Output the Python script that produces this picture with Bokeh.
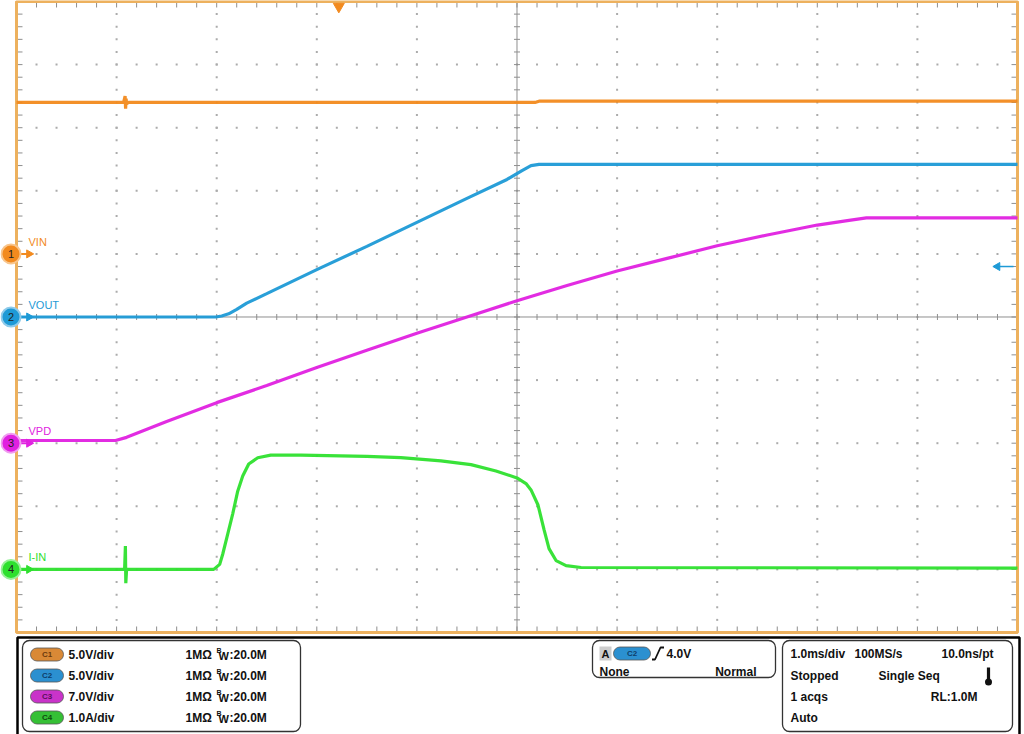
import numpy as np
from bokeh.plotting import figure
from bokeh.models import Range1d
from bokeh.layouts import column
from bokeh.embed import file_html
from bokeh.resources import INLINE
from bokeh.core.properties import value

# ---------------- data ----------------
channel_names = ["VIN", "VOUT", "VPD", "I-IN"]
channel_ids = ["C1", "C2", "C3", "C4"]
channel_scale = [5.0, 5.0, 7.0, 1.0]        # units per division
channel_unit = ["V", "V", "V", "A"]
channel_offset = [1.0, 0.0, -2.0, -4.0]     # ground marker position (div)
channel_colors = ["#F28A1E", "#1E9AD6", "#E021E0", "#2EE02E"]
channel_halo = ["#F8C58C", "#8FCBEA", "#F09CF0", "#98F098"]
pill_colors = ["#D98936", "#2B90D0", "#C933C9", "#35C035"]
pill_text = ["#6A3A0E", "#0E3E6A", "#5A0F5A", "#0F4D0F"]

time_per_div_ms = 1.0
trigger_time_ms = 3.22      # trigger position from left edge of screen
trigger_level_v = 4.0       # on C2

# C1: VIN (V)
vin_t = [0.00, 1.00, 1.07, 1.085, 1.09, 1.095, 1.10, 1.12, 5.18, 5.22, 10.00]
vin_v = [12.0, 12.0, 12.0, 12.5, 11.5, 12.3, 11.9, 12.0, 12.0, 12.1, 12.1]
# C2: VOUT (V)
vout_t = [0.00, 1.99, 2.05, 2.12, 2.20, 2.30, 2.50, 3.00, 3.50, 4.00, 4.50, 4.90, 5.05, 5.14, 5.22, 10.00]
vout_v = [0.0, 0.0, 0.08, 0.25, 0.6, 1.1, 1.85, 3.75, 5.6, 7.5, 9.4, 10.9, 11.6, 12.0, 12.1, 12.1]
# C3: VPD (V)
vpd_t = [0.00, 0.99, 1.10, 1.50, 2.00, 2.50, 3.00, 3.50, 4.00, 4.50, 5.00, 5.50, 6.00, 6.50, 7.00, 7.50, 8.00, 8.30, 8.49, 10.00]
vpd_v = [0.3, 0.3, 0.65, 2.4, 4.5, 6.4, 8.4, 10.3, 12.2, 14.0, 15.8, 17.5, 19.1, 20.5, 21.9, 23.1, 24.2, 24.7, 25.0, 25.0]
# C4: I-IN (A)
iin_t = [0.00, 1.08, 1.088, 1.092, 1.10, 1.97, 2.03, 2.06, 2.11, 2.16, 2.21, 2.26, 2.32, 2.41, 2.54, 2.84,
         3.50, 3.84, 4.24, 4.54, 4.79, 5.00, 5.09, 5.14, 5.21, 5.27, 5.32, 5.39, 5.49, 5.64, 10.00]
iin_a = [0.00, 0.00, 0.37, -0.22, 0.00, 0.00, 0.08, 0.24, 0.56, 0.88, 1.24, 1.48, 1.67, 1.77, 1.81, 1.81,
         1.79, 1.77, 1.72, 1.66, 1.56, 1.45, 1.36, 1.26, 1.02, 0.63, 0.33, 0.14, 0.06, 0.03, 0.02]

traces = [(vin_t, vin_v), (vout_t, vout_v), (vpd_t, vpd_v), (iin_t, iin_a)]

# status panel texts
coupling = ["1M\u03a9"] * 4
bandwidth = [":20.0M"] * 4
trigger_info = ["A", "C2", "4.0V", "None", "Normal"]
timebase_info = ["1.0ms/div", "100MS/s", "10.0ns/pt"]
acq_info = ["Stopped", "Single Seq", "1 acqs", "RL:1.0M", "Auto"]

# ---------------- scope screen ----------------
W = 1024
H1 = 634
H2 = 100
XMIN, XMAX = -0.1598, 10.0699
YMIN, YMAX = -5.0317, 5.0158

p = figure(width=W, height=H1, x_range=Range1d(XMIN, XMAX), y_range=Range1d(YMIN, YMAX),
           output_backend="svg", toolbar_location=None, min_border=0,
           x_axis_location=None, y_axis_location=None, outline_line_color=None,
           background_fill_color="white", border_fill_color="white")
p.grid.visible = False

p.extra_y_ranges = {
    cid: Range1d((YMIN - off) * sc, (YMAX - off) * sc)
    for cid, off, sc in zip(channel_ids, channel_offset, channel_scale)
}

grid_col = "#ABABAB"
tick_col = "#8E8E8E"
px_x = W / (XMAX - XMIN)
px_y = H1 / (YMAX - YMIN)

# dotted graticule
minor_x = np.round(np.arange(0, 10.0001, 0.2), 6)
minor_y = np.round(np.arange(-5, 5.0001, 0.2), 6)
dx, dy = [], []
for gx in [1, 2, 3, 4, 6, 7, 8, 9]:
    for yy in minor_y[1:-1]:
        dx.append(gx); dy.append(yy)
for gy in [-4, -3, -2, -1, 1, 2, 3, 4]:
    for xx in minor_x[1:-1]:
        dx.append(xx); dy.append(gy)
p.scatter(dx, dy, marker="square", size=2, fill_color=grid_col, line_color=None)

# centre cross-hair
p.segment(x0=[5, 0], y0=[-5, 0], x1=[5, 10], y1=[5, 0], line_color=tick_col, line_width=1)
tx = 3 / px_x
ty = 3 / px_y
p.segment(x0=[5 - tx] * len(minor_y), y0=minor_y, x1=[5 + tx] * len(minor_y), y1=minor_y,
          line_color=tick_col, line_width=1)
p.segment(x0=minor_x, y0=[-ty] * len(minor_x), x1=minor_x, y1=[ty] * len(minor_x),
          line_color=tick_col, line_width=1)

# edge ticks
ex = 6 / px_x
ey = 6 / px_y
p.segment(x0=minor_x, y0=[5] * len(minor_x), x1=minor_x, y1=[5 - ey] * len(minor_x), line_color=tick_col)
p.segment(x0=minor_x, y0=[-5] * len(minor_x), x1=minor_x, y1=[-5 + ey] * len(minor_x), line_color=tick_col)
p.segment(x0=[0] * len(minor_y), y0=minor_y, x1=[ex] * len(minor_y), y1=minor_y, line_color=tick_col)
p.segment(x0=[10] * len(minor_y), y0=minor_y, x1=[10 - ex] * len(minor_y), y1=minor_y, line_color=tick_col)

# border
p.quad(left=[0], right=[10], bottom=[-5], top=[5], fill_color=None, line_color="#EDB15E", line_width=3)

# traces
for (t, v), cid, col in zip(traces, channel_ids, channel_colors):
    p.line(t, v, y_range_name=cid, line_color=col, line_width=3.2, line_alpha=0.95)

# ground markers
mx = -0.055
arrow_x = 0.125
p.segment(x0=[mx] * 4, y0=channel_offset, x1=[arrow_x] * 4, y1=channel_offset,
          line_color=channel_colors, line_width=2)
p.scatter([arrow_x] * 4, channel_offset, marker="triangle", angle=-np.pi / 2, size=8,
          fill_color=channel_colors, line_color=channel_colors)
p.scatter([mx] * 4, channel_offset, marker="circle", size=19, fill_color=channel_colors,
          line_color=channel_halo, line_width=2)
p.text([mx] * 4, channel_offset, text=["1", "2", "3", "4"], text_align="center", text_baseline="middle",
       text_font=value("Liberation Sans"), text_font_size="11px", text_color="#222222")
p.text([0.12] * 4, [o + 0.1 for o in channel_offset], text=channel_names, text_color=channel_colors,
       text_font=value("Liberation Sans"), text_font_size="11px", text_baseline="bottom", text_align="left")

# trigger position marker (top) and trigger level arrow (right, on C2)
p.scatter([trigger_time_ms], [5 - 5 / px_y], marker="inverted_triangle", size=11,
          fill_color="#F28A1E", line_color="#F28A1E")
p.segment(x0=[9.81], y0=[trigger_level_v], x1=[9.96], y1=[trigger_level_v], y_range_name="C2",
          line_color=channel_colors[1], line_width=1.5)
p.scatter([9.80], [trigger_level_v], y_range_name="C2", marker="triangle", angle=np.pi / 2, size=8,
          fill_color=channel_colors[1], line_color=channel_colors[1])

# ---------------- status panel ----------------
p2 = figure(width=W, height=H2, x_range=Range1d(0, W), y_range=Range1d(0, H2),
            output_backend="svg", toolbar_location=None, min_border=0,
            x_axis_location=None, y_axis_location=None, outline_line_color=None,
            background_fill_color="white", border_fill_color="white")
p2.grid.visible = False


def Y(fy):
    return H2 - fy


FONT = value("Liberation Sans")

# outer black frame
p2.line([17, 17, 1019, 1019], [Y(H2 + 2), Y(3), Y(3), Y(H2 + 2)], line_color="#000000", line_width=2.5)

# rounded boxes
p2.quad(left=[22, 592, 782], right=[300, 775, 1012], top=[Y(6)] * 3, bottom=[Y(97), Y(43), Y(97)],
        fill_color=None, line_color="#333333", line_width=1.3, border_radius=7)

rows_left = [Y(20), Y(41), Y(62), Y(83)]
# channel pills
p2.quad(left=[30] * 4, right=[63] * 4, top=[r + 6.5 for r in rows_left], bottom=[r - 6.5 for r in rows_left],
        fill_color=pill_colors, line_color="#555555", line_width=0.8, border_radius=7)
p2.text([46.5] * 4, rows_left, text=channel_ids, text_color=pill_text, text_align="center",
        text_baseline="middle", text_font=FONT, text_font_style="bold", text_font_size="8px")
scale_labels = [f"{s:.1f}{u}/div" for s, u in zip(channel_scale, channel_unit)]
common = dict(text_font=FONT, text_font_style="bold", text_font_size="12px", text_baseline="middle",
              text_color="#111111")
p2.text([68] * 4, rows_left, text=scale_labels, **common)
p2.text([185] * 4, rows_left, text=coupling, **common)
p2.text([216] * 4, [r + 4 for r in rows_left], text=["B"] * 4, text_font=FONT, text_font_style="bold",
        text_font_size="7px", text_baseline="middle", text_color="#111111")
p2.text([218] * 4, [r - 1.5 for r in rows_left], text=["W"] * 4, text_font=FONT, text_font_style="bold",
        text_font_size="11px", text_baseline="middle", text_color="#111111")
p2.text([229] * 4, rows_left, text=bandwidth, **common)

# trigger box
r1, r2 = Y(19), Y(37)
p2.quad(left=[599], right=[611], top=[r1 + 7], bottom=[r1 - 7], fill_color="#CDCDCD", line_color=None)
p2.text([605], [r1], text=[trigger_info[0]], text_align="center", **{**common, "text_font_size": "11px"})
p2.quad(left=[613], right=[650], top=[r1 + 6.5], bottom=[r1 - 6.5], fill_color=pill_colors[1],
        line_color="#555555", line_width=0.8, border_radius=7)
p2.text([631.5], [r1], text=[trigger_info[1]], text_align="center", text_baseline="middle", text_font=FONT,
        text_font_style="bold", text_font_size="8px", text_color=pill_text[1])
p2.line([651.5, 654.5, 660, 663.5], [r1 - 6, r1 - 6, r1 + 6, r1 + 6], line_color="#111111", line_width=1.8)
p2.text([666], [r1], text=[trigger_info[2]], **common)
p2.text([599], [r2], text=[trigger_info[3]], **common)
p2.text([756], [r2], text=[trigger_info[4]], text_align="right", **common)

# timebase box
rr = [Y(19), Y(41), Y(62), Y(83)]
p2.text([790], [rr[0]], text=[timebase_info[0]], **common)
p2.text([854], [rr[0]], text=[timebase_info[1]], **common)
p2.text([993], [rr[0]], text=[timebase_info[2]], text_align="right", **common)
p2.text([790], [rr[1]], text=[acq_info[0]], **common)
p2.text([878], [rr[1]], text=[acq_info[1]], **common)
p2.text([790], [rr[2]], text=[acq_info[2]], **common)
p2.text([977], [rr[2]], text=[acq_info[3]], text_align="right", **common)
p2.text([790], [rr[3]], text=[acq_info[4]], **common)
# thermometer icon
p2.segment(x0=[988], y0=[Y(33)], x1=[988], y1=[Y(46)], line_color="#111111", line_width=3.2)
p2.scatter([988], [Y(47.5)], marker="circle", size=7, fill_color="#111111", line_color=None)

layout = column(p, p2, spacing=0)
open("out.html", "w").write(file_html(layout, INLINE))
